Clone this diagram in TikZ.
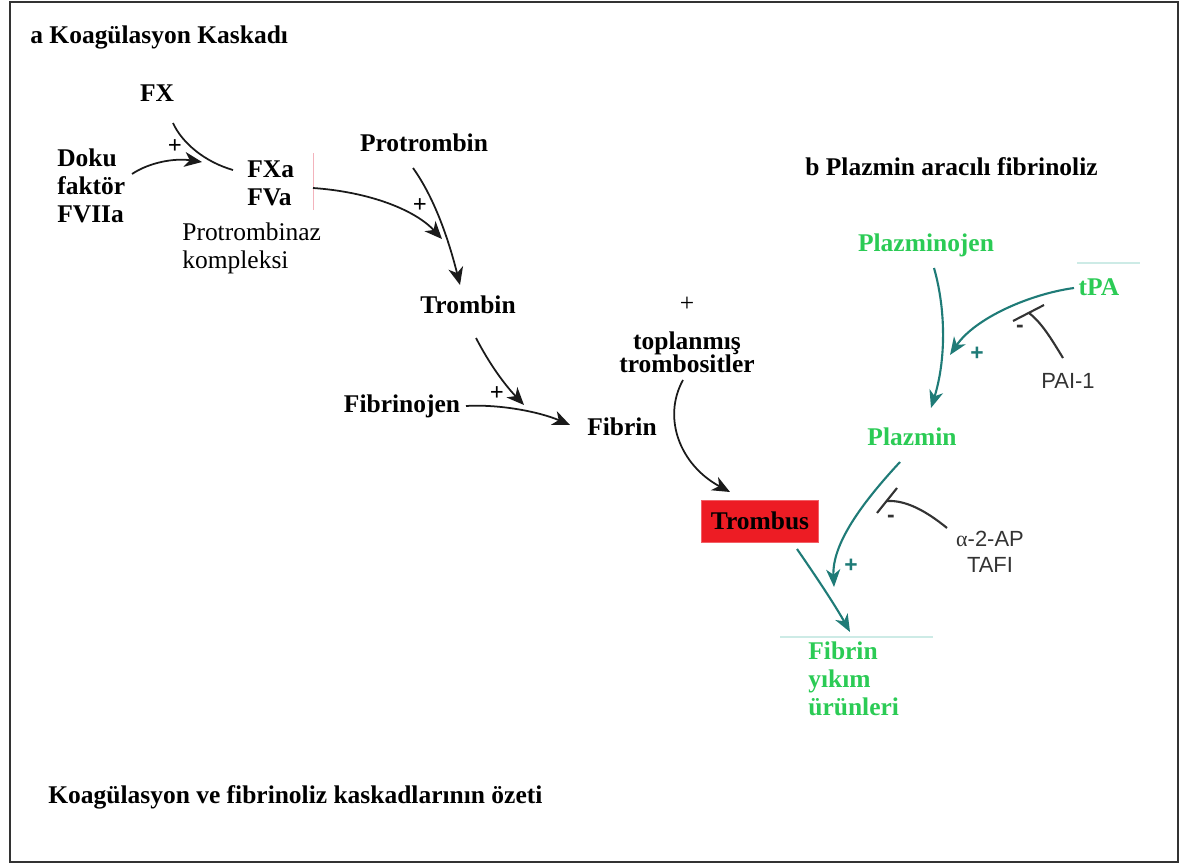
\documentclass[tikz,border=0pt]{standalone}
\usepackage{fontspec}
\setmainfont{Liberation Serif}
\newfontfamily\arialfont{Liberation Sans}
\usepackage{tikz}
\usetikzlibrary{arrows.meta, positioning, calc}
\usepackage{xcolor}
\definecolor{CascBlack}{HTML}{1A1A1A}
\definecolor{CascGray}{HTML}{333333}
\definecolor{FibGreen}{HTML}{2BCB55}
\definecolor{FibTeal}{HTML}{1F7B77}
\definecolor{FibTealPale}{HTML}{CDEBE6}
\definecolor{ClotRed}{HTML}{ED1C24}
\definecolor{MarkPink}{HTML}{F3B3BC}
\tikzset{
    % Text styles
    factor/.style={
        inner sep=0pt,
        align=center,
        font=\fontsize{14.5}{16}\selectfont\bfseries
    },
    heading/.style={
        inner sep=0pt,
        anchor=west,
        font=\fontsize{14.5}{16}\selectfont\bfseries
    },
    note/.style={
        inner sep=0pt,
        font=\fontsize{14.5}{16}\selectfont
    },
    sansnote/.style={
        inner sep=0pt,
        text=CascGray,
        font=\arialfont\fontsize{12.5}{14.5}\selectfont
    },
    sign/.style={
        inner sep=0pt,
        font=\fontsize{14}{14}\selectfont\bfseries
    },
    sanssign/.style={
        inner sep=0pt,
        font=\arialfont\fontsize{13}{13}\selectfont\bfseries
    },
    clot/.style={
        rectangle,
        draw=ClotRed!70,
        fill=ClotRed,
        minimum width=2.34cm,
        minimum height=0.84cm,
        text centered,
        font=\fontsize{14.5}{16}\selectfont\bfseries
    },
    % Arrow styles
    myarrow/.style={
        ->,
        >={Stealth[length=10pt,width=8.5pt,inset=3pt]},
        line width=1pt,
        CascBlack
    },
    plainline/.style={
        line width=1pt,
        CascBlack
    },
    tealarrow/.style={
        ->,
        >={Stealth[length=10pt,width=8pt,inset=3pt]},
        line width=1.2pt,
        FibTeal
    },
    inhibit/.style={
        line width=1.2pt,
        CascGray
    },
    paleline/.style={
        line width=0.6pt,
        FibTealPale
    }
}
\begin{document}
\begin{tikzpicture}[x=0.02cm, y=-0.02cm]
    \useasboundingbox (0,0) rectangle (1186,865);
    \draw[line width=1pt, CascGray] (10,2) rectangle (1178,862);

    % a) coagulation cascade
    \node[heading] (tA) at (30,37) {a Koagülasyon Kaskadı};
    \node[factor] (FX) at (157,93) {FX};
    \node[factor, anchor=west, align=left] (TF) at (57,186) {Doku\\faktör\\FVIIa};
    \node[factor, anchor=west, align=left] (FXa) at (247,183) {FXa\\FVa};
    \node[note, anchor=west, align=left] (PTZ) at (182,248) {Protrombinaz\\kompleksi};
    \node[factor] (PT) at (424,143) {Protrombin};
    \node[factor] (TR) at (468,305) {Trombin};
    \node[factor] (FBG) at (402,406) {Fibrinojen};
    \node[factor] (FB) at (622,427) {Fibrin};
    \node[note] (pltplus) at (687,304) {+};
    \node[factor] (PLT) at (687,352) {toplanmış\\[-3pt]trombositler};
    \node[clot] (TB) at (760,521) {Trombus};

    \draw[MarkPink, line width=0.5pt] (313,153) -- (313,210);

    \coordinate (fxS) at (173,123);
    \coordinate (fxE) at (233,170);
    \coordinate (tfS) at (132,174);
    \coordinate (tfE) at (202,162);
    \coordinate (cxS) at (313,188);
    \coordinate (cxE) at (442,239);
    \coordinate (ptS) at (413,168);
    \coordinate (ptE) at (460,285);
    \coordinate (trS) at (476,338);
    \coordinate (trE) at (524,405);
    \coordinate (fgS) at (466,406);
    \coordinate (fgE) at (570,425);
    \coordinate (plS) at (683,380);
    \coordinate (plE) at (730,492);

    \draw[plainline] (fxS) .. controls (182,143) and (205,162) .. (fxE);
    \draw[myarrow] (tfS) .. controls (150,162) and (175,158) .. (tfE);
    \draw[myarrow] (cxS) .. controls (370,192) and (415,210) .. (cxE);
    \draw[myarrow] (ptS) .. controls (436,200) and (450,245) .. (ptE);
    \draw[myarrow] (trS) .. controls (490,365) and (505,385) .. (trE);
    \draw[myarrow] (fgS) .. controls (500,404) and (540,412) .. (fgE);
    \draw[myarrow] (plS) .. controls (662,418) and (680,465) .. (plE);

    \node[sign] (s1) at (175,147) {+};
    \node[sign] (s2) at (420,206) {+};
    \node[sign] (s3) at (497,394) {+};

    % b) plasmin mediated fibrinolysis
    \node[heading] (tB) at (805,167) {b Plazmin aracılı fibrinoliz};
    \node[factor, text=FibGreen] (PLG) at (926,245) {Plazminojen};
    \node[factor, text=FibGreen] (TPA) at (1099,287) {tPA};
    \node[sansnote] (PAI) at (1068,381) {PAI-1};
    \node[factor, text=FibGreen] (PLM) at (912,437) {Plazmin};
    \node[sansnote, align=center] (A2AP) at (990,552) {{\rmfamily α}-2-AP\\TAFI};
    \node[factor, text=FibGreen, anchor=west, align=left] (FDP) at (808,679) {Fibrin\\yıkım\\ürünleri};

    \draw[paleline] (1077,263) -- (1140,263);
    \draw[paleline] (780,637) -- (933,637);

    \coordinate (pgS) at (934,268);
    \coordinate (pgE) at (931,408);
    \coordinate (tpS) at (1074,288);
    \coordinate (tpE) at (950,355);
    \coordinate (paiS) at (1063,358);
    \coordinate (paiB) at (1029,313);
    \coordinate (pmS) at (900,462);
    \coordinate (pmE) at (834,587);
    \coordinate (apS) at (947,528);
    \coordinate (apB) at (887,501);
    \coordinate (tbS) at (797,549);
    \coordinate (tbE) at (850,632);

    \draw[tealarrow] (pgS) .. controls (946,310) and (946,360) .. (pgE);
    \draw[tealarrow] (tpS) .. controls (1030,294) and (975,318) .. (tpE);
    \draw[tealarrow] (pmS) .. controls (860,505) and (832,545) .. (pmE);
    \draw[tealarrow] (tbS) .. controls (815,575) and (835,605) .. (tbE);

    \draw[inhibit] (paiS) .. controls (1052,340) and (1042,323) .. (paiB);
    \draw[inhibit] (1013,321) -- (1044,305);
    \draw[inhibit] (apS) .. controls (925,510) and (905,500) .. (apB);
    \draw[inhibit] (877,513) -- (897,488);

    \node[sanssign, text=FibTeal] (s4) at (977,354) {+};
    \node[sanssign, text=FibTeal] (s5) at (851,566) {+};
    \node[sanssign, text=CascGray] (m1) at (1020,329) {-};
    \node[sanssign, text=CascGray] (m2) at (891,519) {-};

    \node[heading] (cap) at (48,797) {Koagülasyon ve fibrinoliz kaskadlarının özeti};
\end{tikzpicture}
\end{document}
